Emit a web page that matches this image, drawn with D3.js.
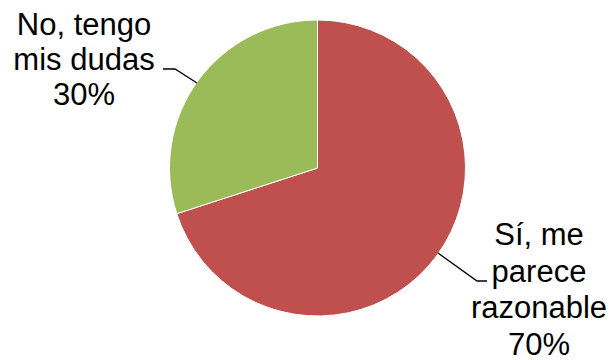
<!DOCTYPE html>
<html><head><meta charset="utf-8">
<script src="https://cdn.jsdelivr.net/npm/d3@7"></script>
<style>body{margin:0;background:#fff}</style>
</head><body>
<script>
const categories = ["Sí, me parece razonable", "No, tengo mis dudas"];
const values = [70, 30];
const labelLines = [["Sí, me", "parece", "razonable", "70%"], ["No, tengo", "mis dudas", "30%"]];
const colors = ["#C0504D", "#9BBB59"];

const W = 614, H = 360, cx = 317.5, cy = 168, R = 148;
const svg = d3.select("body").append("svg").attr("width", W).attr("height", H);
const g = svg.append("g").attr("transform", `translate(${cx},${cy})`);
const pie = d3.pie().sort(null).value(d => d)(values);
const arc = d3.arc().innerRadius(0).outerRadius(R);
g.selectAll("path").data(pie).enter().append("path")
  .attr("d", arc).attr("fill", (d, i) => colors[i])
  .attr("stroke", "#fff").attr("stroke-width", 1);

const font = "Liberation Sans, Arial, sans-serif";
// label positions (relative to svg)
const labels = [
  {x: 539, y0: 245, dy: 36.5, leader: [[438 - cx, 253 - cy], [477, 281], [487, 281]]},
  {x: 84, y0: 35, dy: 35, leader: [[197 - cx, 83 - cy], [175, 69], [163, 69]]}
];
labels.forEach((L, i) => {
  const t = svg.append("text").attr("font-family", font).attr("font-size", 31)
    .attr("fill", "#000").attr("text-anchor", "middle");
  labelLines[i].forEach((s, k) => {
    t.append("tspan").attr("x", L.x).attr("y", L.y0 + k * L.dy).text(s);
  });
  // leader start point from the slice's arc, using mid angle direction scaled to edge
  const p0 = [cx + L.leader[0][0], cy + L.leader[0][1]];
  svg.append("polyline")
    .attr("points", [p0, L.leader[1], L.leader[2]].map(p => p.join(",")).join(" "))
    .attr("fill", "none").attr("stroke", "#000").attr("stroke-width", 1.3);
});
</script>
</body></html>
